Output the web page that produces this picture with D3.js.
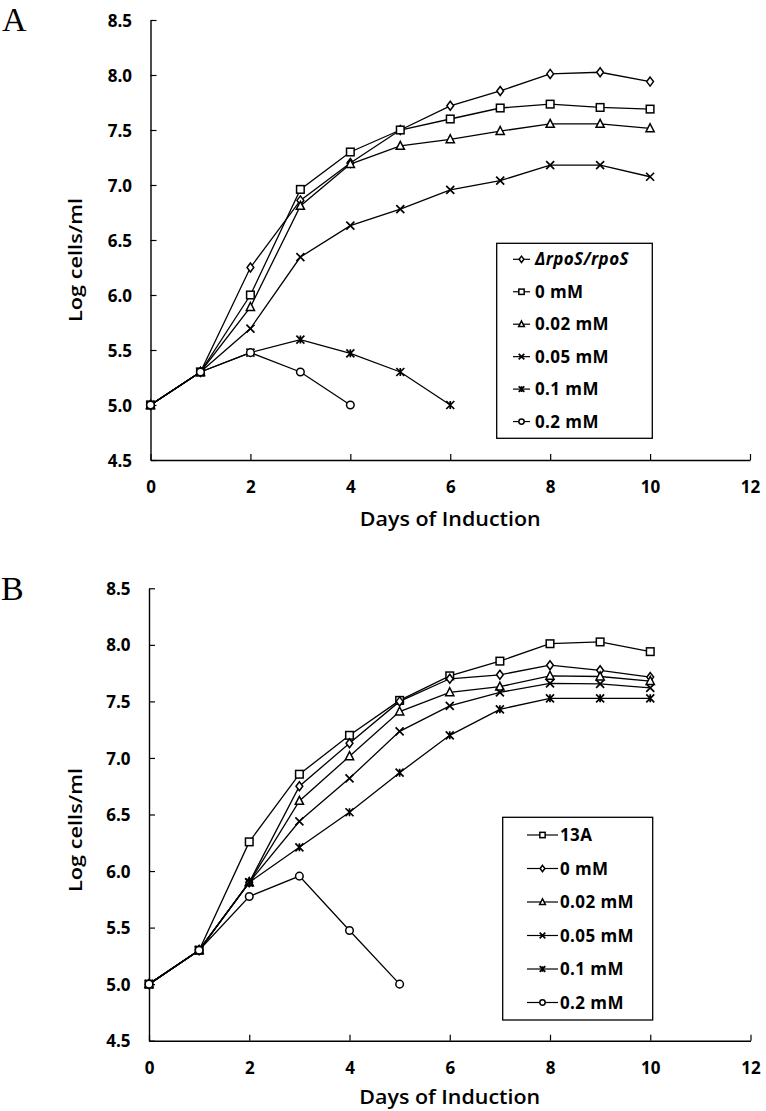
<!DOCTYPE html>
<html><head><meta charset="utf-8">
<script src="https://cdn.jsdelivr.net/npm/d3@7"></script>
<style>body{margin:0;background:#fff}svg{display:block}</style>
</head><body>
<script>
// ---------- data ----------
const days = [0,1,2,3,4,5,6,7,8,9,10];
const xTickValues = [0,2,4,6,8,10,12];
const yTickValues = [4.5,5.0,5.5,6.0,6.5,7.0,7.5,8.0,8.5];
const xTitle = "Days of Induction";
const yTitle = "Log cells/ml";

// Panel A
const labelsA  = ["ΔrpoS/rpoS","0 mM","0.02 mM","0.05 mM","0.1 mM","0.2 mM"];
const markersA = ["diamond","square","triangle","cross","star","circle"];
const A_rpoS  = [5.0,5.3,6.25,6.86,7.2,7.5,7.72,7.855,8.01,8.025,7.94];
const A_0mM   = [5.0,5.3,6.0,6.96,7.30,7.5,7.60,7.70,7.735,7.705,7.69];
const A_002mM = [5.0,5.3,5.89,6.81,7.19,7.355,7.415,7.49,7.555,7.555,7.515];
const A_005mM = [5.0,5.3,5.695,6.345,6.63,6.78,6.955,7.04,7.18,7.18,7.075];
const A_01mM  = [5.0,5.3,5.476,5.595,5.47,5.30,5.0];
const A_02mM  = [5.0,5.3,5.476,5.30,5.0];

// Panel B
const labelsB  = ["13A","0 mM","0.02 mM","0.05 mM","0.1 mM","0.2 mM"];
const markersB = ["square","diamond","triangle","cross","star","circle"];
const B_13A   = [5.0,5.3,6.258,6.856,7.2,7.509,7.726,7.856,8.01,8.026,7.94];
const B_0mM   = [5.0,5.3,5.9,6.75,7.13,7.5,7.70,7.735,7.82,7.775,7.715];
const B_002mM = [5.0,5.3,5.9,6.62,7.015,7.41,7.58,7.63,7.726,7.72,7.68];
const B_005mM = [5.0,5.3,5.9,6.44,6.82,7.235,7.46,7.58,7.66,7.655,7.62];
const B_01mM  = [5.0,5.3,5.9,6.21,6.52,6.87,7.2,7.43,7.527,7.527,7.527];
const B_02mM  = [5.0,5.3,5.775,5.955,5.474,5.0];

// ---------- drawing ----------
const W = 766, H = 1111;
const svg = d3.select("body").append("svg").attr("width", W).attr("height", H)
  .style("font-family", "'Open Sans', sans-serif");

function marker(g, type, cx, cy, s) {
  const st = {stroke:"#000", "stroke-width":1.5, fill:"#fff"};
  let el;
  if (type === "diamond") {
    el = g.append("path").attr("d", `M${cx},${cy-4.5*s}L${cx+3.4*s},${cy}L${cx},${cy+4.5*s}L${cx-3.4*s},${cy}Z`);
  } else if (type === "square") {
    el = g.append("rect").attr("x", cx-3.8*s).attr("y", cy-3.8*s).attr("width", 7.6*s).attr("height", 7.6*s);
  } else if (type === "triangle") {
    el = g.append("path").attr("d", `M${cx},${cy-4.6*s}L${cx+4.1*s},${cy+3.4*s}L${cx-4.1*s},${cy+3.4*s}Z`);
  } else if (type === "circle") {
    el = g.append("circle").attr("cx", cx).attr("cy", cy).attr("r", 3.8*s);
  } else if (type === "cross" || type === "star") {
    const r = 4*s;
    let d = `M${cx-r},${cy-r}L${cx+r},${cy+r}M${cx-r},${cy+r}L${cx+r},${cy-r}`;
    if (type === "star") d += `M${cx},${cy-r}L${cx},${cy+r}`;
    el = g.append("path").attr("d", d);
    st.fill = "none"; st["stroke-width"] = 1.7;
  }
  Object.entries(st).forEach(([k,v]) => el.attr(k, v));
}

function panel(cfg) {
  const x = d3.scaleLinear().domain([0,12]).range([cfg.x0, cfg.x1]);
  const y = d3.scaleLinear().domain([4.5,8.5]).range([cfg.yb, cfg.yt]);
  const g = svg.append("g");

  // x axis (ticks inward)
  const xa = g.append("g").attr("transform", `translate(0,${cfg.yb})`)
    .call(d3.axisBottom(x).tickValues(xTickValues).tickSizeInner(-6).tickSizeOuter(0).tickPadding(0).tickFormat(d3.format("d")));
  xa.select(".domain").attr("stroke", "#000").attr("stroke-width", 1.4);
  xa.selectAll(".tick line").attr("stroke", "#000").attr("stroke-width", 1.2);
  xa.selectAll(".tick text").attr("y", cfg.xLabY - cfg.yb).attr("dy", null)
    .attr("font-size", 17).attr("font-weight", 700).attr("fill", "#000")
    .attr("font-family", "'Open Sans', sans-serif");

  // y axis (ticks inward)
  const ya = g.append("g").attr("transform", `translate(${cfg.x0},0)`)
    .call(d3.axisLeft(y).tickValues(yTickValues).tickSizeInner(-6).tickSizeOuter(0).tickPadding(0).tickFormat(d3.format(".1f")));
  ya.select(".domain").attr("stroke", "#000").attr("stroke-width", 1.4);
  ya.selectAll(".tick line").attr("stroke", "#000").attr("stroke-width", 1.2);
  ya.selectAll(".tick text").attr("x", -18.5).attr("dy", "0.36em")
    .attr("font-size", 17).attr("font-weight", 700).attr("fill", "#000")
    .attr("font-family", "'Open Sans', sans-serif");

  // titles
  g.append("text").attr("x", x(6)).attr("y", cfg.xTitleY).attr("text-anchor", "middle")
    .attr("font-size", 19).attr("font-weight", 600)
    .attr("textLength", 181).attr("lengthAdjust", "spacingAndGlyphs").text(xTitle);
  g.append("text").attr("transform", `translate(82,${cfg.yTitleC}) rotate(-90)`).attr("text-anchor", "middle")
    .attr("font-size", 18).attr("font-weight", 600)
    .attr("textLength", 124).attr("lengthAdjust", "spacingAndGlyphs").text(yTitle);

  // panel letter
  g.append("text").attr("x", cfg.letterX).attr("y", cfg.letterY)
    .attr("font-family", "'Liberation Serif', 'Times New Roman', serif").attr("font-size", 34).text(cfg.letter);

  // series
  const line = d3.line().x((d,i) => x(days[i])).y(d => y(d));
  cfg.series.forEach((vals, k) => {
    g.append("path").datum(vals).attr("d", line).attr("fill", "none").attr("stroke", "#000").attr("stroke-width", 1.3);
  });
  cfg.series.forEach((vals, k) => {
    vals.forEach((v, i) => marker(g, cfg.markers[k], x(days[i]), y(v), 1));
  });

  // legend
  const L = cfg.legend;
  g.append("rect").attr("x", L.x).attr("y", L.y).attr("width", L.w).attr("height", L.h)
    .attr("fill", "#fff").attr("stroke", "#000").attr("stroke-width", 1.3);
  cfg.labels.forEach((lab, k) => {
    const cy = L.row0 + k * L.dy;
    g.append("line").attr("x1", L.lx1).attr("x2", L.lx2).attr("y1", cy).attr("y2", cy)
      .attr("stroke", "#000").attr("stroke-width", 1.2);
    marker(g, cfg.markers[k], (L.lx1 + L.lx2) / 2, cy, 0.7);
    const t = g.append("text").attr("x", L.tx).attr("y", cy + 6)
      .attr("font-size", 17).attr("font-weight", 700).attr("letter-spacing", 0.4).text(lab);
    if (lab.indexOf("rpoS") >= 0) t.attr("font-style", "italic");
  });
}

panel({
  x0:150.5, x1:750, yb:460, yt:20, xLabY:493, xTitleY:526, yTitleC:260,
  letter:"A", letterX:2, letterY:31,
  series:[A_rpoS, A_0mM, A_002mM, A_005mM, A_01mM, A_02mM], markers:markersA, labels:labelsA,
  legend:{x:496.7, y:243.3, w:155.6, h:195, row0:259.3, dy:32.45, lx1:513, lx2:530, tx:535}
});
panel({
  x0:149, x1:750.5, yb:1040.7, yt:588.3, xLabY:1074, xTitleY:1103.5, yTitleC:830,
  letter:"B", letterX:1, letterY:600,
  series:[B_13A, B_0mM, B_002mM, B_005mM, B_01mM, B_02mM], markers:markersB, labels:labelsB,
  legend:{x:502.7, y:817.3, w:150, h:202.7, row0:835, dy:33.5, lx1:527, lx2:558, tx:560}
});
</script>
</body></html>
